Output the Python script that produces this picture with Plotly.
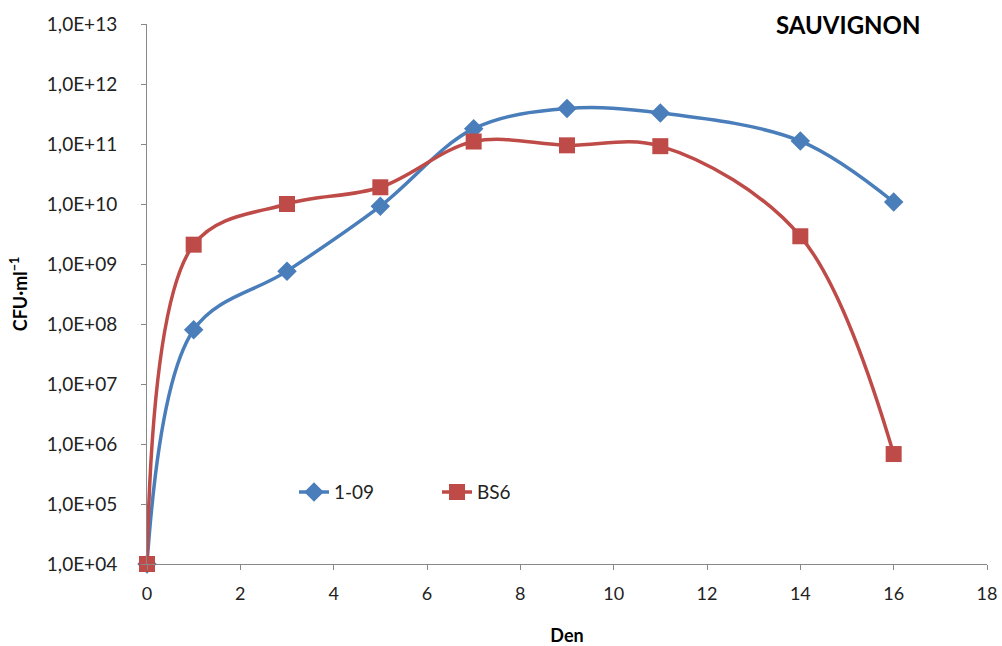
import plotly.graph_objects as go

days = [0, 1, 3, 5, 7, 9, 11, 14, 16]
s109 = [1.0e4, 8.0e7, 7.6e8, 9.2e9, 1.8e11, 3.9e11, 3.3e11, 1.12e11, 1.08e10]
bs6 = [1.0e4, 2.1e9, 1.0e10, 1.9e10, 1.1e11, 9.5e10, 9.2e10, 2.9e9, 6.8e5]
series_names = ["1-09", "BS6"]
ytick_vals = [1e4, 1e5, 1e6, 1e7, 1e8, 1e9, 1e10, 1e11, 1e12, 1e13]
ytick_text = ["1,0E+04", "1,0E+05", "1,0E+06", "1,0E+07", "1,0E+08",
              "1,0E+09", "1,0E+10", "1,0E+11", "1,0E+12", "1,0E+13"]
xtick_vals = list(range(0, 19, 2))

FONT = "Lato"
BLUE = "#4A7EBB"
RED = "#BE4B48"

fig = go.Figure()
fig.add_trace(go.Scatter(
    x=days, y=s109, name=series_names[0], mode="lines+markers", cliponaxis=False,
    line=dict(color=BLUE, width=3.5, shape="spline", smoothing=1.0),
    marker=dict(symbol="diamond", size=15, color=BLUE),
))
fig.add_trace(go.Scatter(
    x=days, y=bs6, name=series_names[1], mode="lines+markers", cliponaxis=False,
    line=dict(color=RED, width=3.5, shape="spline", smoothing=1.0),
    marker=dict(symbol="square", size=16, color=RED),
))

fig.update_layout(
    width=1002, height=646,
    margin=dict(l=147, r=15, t=24, b=82, autoexpand=False),
    paper_bgcolor="white", plot_bgcolor="white",
    font=dict(family=FONT, size=18, color="#222222"),
    showlegend=True,
    legend=dict(orientation="h", x=0.175, y=0.133, xanchor="left", yanchor="middle",
                font=dict(size=19, family=FONT), entrywidth=98, entrywidthmode="pixels",
                bgcolor="rgba(0,0,0,0)"),
    annotations=[dict(text="<b>SAUVIGNON</b>", xref="paper", yref="paper",
                      x=0.835, y=1.0, xanchor="center", yanchor="middle",
                      showarrow=False, font=dict(size=24, family=FONT, color="black"))],
)

fig.update_xaxes(
    range=[0, 18], tickvals=xtick_vals, showgrid=False, zeroline=False,
    showline=True, linecolor="#888888", linewidth=1, automargin=False,
    ticks="outside", ticklen=5, tickcolor="#888888",
    tickfont=dict(size=18, family=FONT), ticklabelstandoff=8,
    title=dict(text="<b>Den</b>", font=dict(size=18, family=FONT, color="black"), standoff=27),
)
fig.update_yaxes(
    type="log", range=[4, 13], tickvals=ytick_vals, ticktext=ytick_text,
    showgrid=False, zeroline=False, automargin=False,
    showline=True, linecolor="#888888", linewidth=1,
    ticks="outside", ticklen=5, tickcolor="#888888",
    tickfont=dict(size=19, family=FONT), ticklabelstandoff=20,
    title=dict(text="<b>CFU·ml<sup>−1</sup></b>", font=dict(size=18, family=FONT, color="black"), standoff=14),
)

fig.write_html("out.html")
